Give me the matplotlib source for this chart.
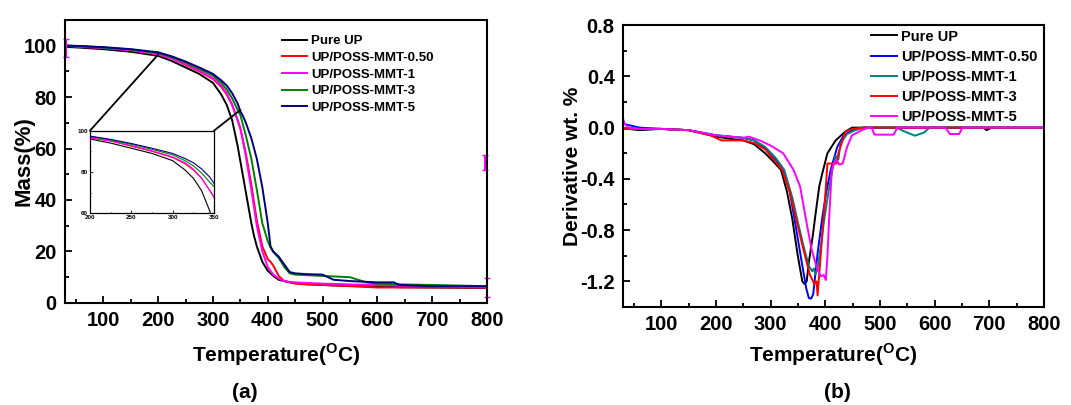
import matplotlib
matplotlib.use('Agg')
import matplotlib.pyplot as plt
from matplotlib.patches import ConnectionPatch
from matplotlib.ticker import MultipleLocator, FormatStrFormatter

plt.rcParams['font.family'] = ['Liberation Sans', 'DejaVu Sans']
plt.rcParams['font.weight'] = 'bold'
plt.rcParams['axes.unicode_minus'] = False
plt.rcParams['mathtext.fontset'] = 'custom'
plt.rcParams['mathtext.rm'] = 'Liberation Sans:bold'
plt.rcParams['mathtext.bf'] = 'Liberation Sans:bold'

# ---- TGA (mass loss) ----
tga_names = ['Pure UP', 'UP/POSS-MMT-0.50', 'UP/POSS-MMT-1', 'UP/POSS-MMT-3', 'UP/POSS-MMT-5']
tga_colors = ['black', '#ff0000', '#ff00ff', '#008000', '#000080']
tga_T = [30, 50, 100, 150, 200, 225, 250, 275, 300, 315, 325, 335, 345, 350, 355, 360, 365,
         370, 375, 380, 390, 400, 405, 410, 420, 430, 440, 450, 470, 500, 520, 550, 580, 600,
         630, 640, 700, 800]
mass_pure = [99.5, 99.3, 98.6, 97.6, 96, 94, 91.5, 89, 85.5, 81, 77, 71, 61, 55, 49, 43, 37,
             31, 26, 22, 16, 12.5, 11.5, 10.5, 9, 8.5, 8, 7.7, 7.3, 7, 6.8, 6.6, 6.5, 6.4,
             6.2, 6.1, 6, 5.8]
mass_050 = [100, 99.8, 99.3, 98.3, 96.6, 95, 92.5, 90, 87, 84, 81, 77, 71, 67.7, 63, 58, 52,
            46, 39, 32, 22, 17, 16, 14.5, 10.5, 8.5, 8, 7.5, 7.2, 7, 6.8, 6.5, 6.2, 6, 6, 6,
            6, 6]
mass_1 = [100, 99.6, 99.0, 98.2, 96.6, 95, 92.8, 90.3, 87.3, 84.5, 81.5, 77, 71, 68, 62.5, 57,
          50.5, 44, 37, 30, 20, 14, 12.5, 11, 9.5, 8.5, 8.2, 8, 7.8, 7.5, 7.4, 7.2, 7.1, 7,
          6.8, 6.8, 6.5, 6]
mass_3 = [100, 99.8, 99.2, 98.5, 97.1, 95.5, 93.4, 91, 88.3, 85.5, 83, 79.5, 75, 73, 69, 65,
          60.5, 56, 50, 44, 31, 24, 21.5, 19.8, 17.5, 14, 11.5, 11, 10.8, 10.5, 10.3, 10, 8,
          7.5, 7.3, 7.2, 7, 6.5]
mass_5 = [100, 99.9, 99.4, 98.6, 97.4, 95.8, 93.8, 91.5, 89, 86.5, 84.5, 81.5, 77.5, 74.5,
          72.5, 70, 67, 64, 60, 56, 45, 31, 22, 20, 18, 15, 12, 11.5, 11.2, 11, 9, 8.5, 8.2,
          8, 8, 7, 6.5, 6.5]
tga_mass = [mass_pure, mass_050, mass_1, mass_3, mass_5]

# stray error bars on the UP/POSS-MMT-1 trace
err_T = [31, 797, 800]
err_mass = [99, 54.5, 6]
err_size = [3.5, 3, 3.5]

# ---- DTG (derivative weight) ----
dtg_names = ['Pure UP', 'UP/POSS-MMT-0.50', 'UP/POSS-MMT-1', 'UP/POSS-MMT-3', 'UP/POSS-MMT-5']
dtg_colors = ['black', '#0000ff', '#008080', '#ff0000', '#ff00ff']
dtg_T_pure = [30, 40, 60, 100, 150, 200, 230, 250, 270, 290, 304, 319, 330, 340, 349, 358, 362,
              366, 370, 377, 383, 389, 395, 404, 419, 437, 449, 470, 690, 695, 705, 800]
dtg_pure = [-0.01, -0.01, -0.02, -0.01, -0.02, -0.07, -0.09, -0.1, -0.13, -0.2, -0.26, -0.33,
            -0.5, -0.72, -0.98, -1.2, -1.22, -1.2, -1.05, -0.85, -0.65, -0.46, -0.35, -0.2,
            -0.1, -0.03, 0, 0, 0, -0.02, 0, 0]
dtg_T_050 = [30, 40, 50, 60, 100, 150, 200, 250, 270, 290, 310, 323, 335, 344, 355, 365, 370,
             374, 378, 386, 394, 402, 410, 422, 434, 449, 470, 800]
dtg_050 = [0.03, 0.02, 0.01, 0.0, -0.01, -0.02, -0.06, -0.08, -0.1, -0.16, -0.25, -0.33, -0.5,
           -0.72, -1.0, -1.25, -1.33, -1.335, -1.3, -0.98, -0.72, -0.5, -0.33, -0.15, -0.06,
           -0.02, 0, 0]
dtg_T_1 = [30, 60, 100, 150, 200, 250, 270, 290, 310, 325, 340, 349, 360, 370, 376, 379, 382,
           386, 392, 398, 406, 413, 419, 424, 428, 440, 455, 470, 530, 545, 564, 580, 591, 800]
dtg_1 = [0.0, -0.01, -0.01, -0.02, -0.06, -0.08, -0.1, -0.15, -0.24, -0.33, -0.55, -0.72,
         -0.92, -1.08, -1.12, -1.1, -1.145, -1.1, -0.92, -0.72, -0.5, -0.33, -0.22, -0.25,
         -0.12, -0.05, -0.02, 0, 0, -0.03, -0.063, -0.04, 0, 0]
dtg_T_3 = [30, 60, 100, 150, 190, 210, 230, 250, 270, 290, 306, 321, 335, 347, 360, 372, 380,
           384, 386, 388, 392, 398, 404, 412, 421, 424, 437, 450, 470, 800]
dtg_3 = [-0.01, -0.01, -0.01, -0.02, -0.06, -0.1, -0.1, -0.1, -0.12, -0.17, -0.25, -0.33, -0.5,
         -0.72, -0.95, -1.15, -1.22, -1.2, -1.31, -1.2, -0.98, -0.65, -0.28, -0.28, -0.28,
         -0.2, -0.03, -0.01, 0, 0]
dtg_T_5 = [30, 33, 40, 60, 100, 150, 200, 250, 260, 280, 300, 323, 342, 354, 367, 375, 385,
           392, 397, 401, 404, 407, 412, 416, 420, 426, 432, 440, 449, 467, 480, 485, 490, 525,
           532, 620, 628, 645, 651, 800]
dtg_5 = [0.07, 0.03, 0.0, -0.01, -0.01, -0.02, -0.06, -0.08, -0.07, -0.1, -0.14, -0.2, -0.33,
         -0.46, -0.77, -0.95, -1.1, -1.16, -1.15, -1.19, -1.0, -0.72, -0.33, -0.28, -0.25,
         -0.29, -0.28, -0.15, -0.06, -0.02, 0, 0, -0.055, -0.055, 0, 0, -0.05, -0.05, 0, 0]
dtg_T = [dtg_T_pure, dtg_T_050, dtg_T_1, dtg_T_3, dtg_T_5]
dtg_vals = [dtg_pure, dtg_050, dtg_1, dtg_3, dtg_5]

temp_label = r'Temperature($^{\mathbf{O}}$C)'


def style_axes(ax):
    for s in ax.spines.values():
        s.set_linewidth(1.5)
    ax.tick_params(which='both', direction='in', top=False, right=False, width=1.3)
    ax.tick_params(which='major', length=5, labelsize=14.5, pad=6)
    ax.tick_params(which='minor', length=3)
    for lab in ax.get_xticklabels() + ax.get_yticklabels():
        lab.set_fontweight('bold')


fig = plt.figure(figsize=(10.71, 4.05), dpi=100)

# (a) TGA
ax1 = fig.add_axes([0.0607, 0.252, 0.394, 0.699])
for m, c, n in zip(tga_mass, tga_colors, tga_names):
    ax1.plot(tga_T, m, color=c, lw=1.4, label=n)
ax1.errorbar(err_T, err_mass, yerr=err_size, fmt='none', ecolor='#ff00ff',
             elinewidth=1.5, capsize=2.5, clip_on=False)
ax1.set_xlim(30, 800)
ax1.set_ylim(0, 110)
ax1.xaxis.set_major_locator(MultipleLocator(100))
ax1.xaxis.set_minor_locator(MultipleLocator(50))
ax1.yaxis.set_major_locator(MultipleLocator(20))
ax1.yaxis.set_minor_locator(MultipleLocator(10))
style_axes(ax1)
ax1.set_xlabel(temp_label, fontsize=15, fontweight='bold', labelpad=8)
ax1.set_ylabel('Mass(%)', fontsize=16, fontweight='bold')
ax1.yaxis.set_label_coords(-0.072, 0.5)
ax1.legend(loc='upper left', bbox_to_anchor=(0.263, 0.913), bbox_transform=fig.transFigure,
           frameon=False, fontsize=9.5, handlelength=1.9, handletextpad=0.35,
           labelspacing=0.33, borderpad=0, borderaxespad=0)

# zoomed inset 200-350 C
axin = fig.add_axes([0.084, 0.4733, 0.1158, 0.204])
for m, c in zip(tga_mass, tga_colors):
    axin.plot(tga_T, m, color=c, lw=0.8)
axin.set_xlim(200, 350)
axin.set_ylim(60, 100)
axin.set_xticks([200, 250, 300, 350])
axin.set_yticks([60, 80, 100])
axin.xaxis.set_minor_locator(MultipleLocator(25))
axin.yaxis.set_minor_locator(MultipleLocator(10))
axin.tick_params(which='both', direction='in', labelsize=4.5, pad=1.5, width=0.6)
axin.tick_params(which='major', length=2)
axin.tick_params(which='minor', length=1)
for s in axin.spines.values():
    s.set_linewidth(0.9)
for p_in, p_main in [((0, 1), (200, 96.5)), ((1, 1), (350, 75))]:
    con = ConnectionPatch(xyA=p_in, coordsA=axin.transAxes, xyB=p_main, coordsB=ax1.transData,
                          color='black', lw=1.3)
    fig.add_artist(con)

# (b) DTG
ax2 = fig.add_axes([0.5817, 0.242, 0.393, 0.696])
for T, v, c, n in zip(dtg_T, dtg_vals, dtg_colors, dtg_names):
    ax2.plot(T, v, color=c, lw=1.4, label=n)
ax2.set_xlim(30, 800)
ax2.set_ylim(-1.4, 0.8)
ax2.xaxis.set_major_locator(MultipleLocator(100))
ax2.xaxis.set_minor_locator(MultipleLocator(50))
ax2.yaxis.set_major_locator(MultipleLocator(0.4))
ax2.yaxis.set_minor_locator(MultipleLocator(0.2))
ax2.yaxis.set_major_formatter(FormatStrFormatter('%.1f'))
style_axes(ax2)
ax2.set_xlabel(temp_label, fontsize=15, fontweight='bold', labelpad=5)
ax2.set_ylabel('Derivative wt. %', fontsize=15, fontweight='bold')
ax2.yaxis.set_label_coords(-0.098, 0.5)
ax2.legend(loc='upper left', bbox_to_anchor=(0.813, 0.927), bbox_transform=fig.transFigure,
           frameon=False, fontsize=10.5, handlelength=1.8, handletextpad=0.3,
           labelspacing=0.42, borderpad=0, borderaxespad=0)

fig.text(0.229, 0.03, '(a)', fontsize=15, fontweight='bold', ha='center', va='center')
fig.text(0.782, 0.03, '(b)', fontsize=15, fontweight='bold', ha='center', va='center')

fig.savefig('out.png', dpi=100)
